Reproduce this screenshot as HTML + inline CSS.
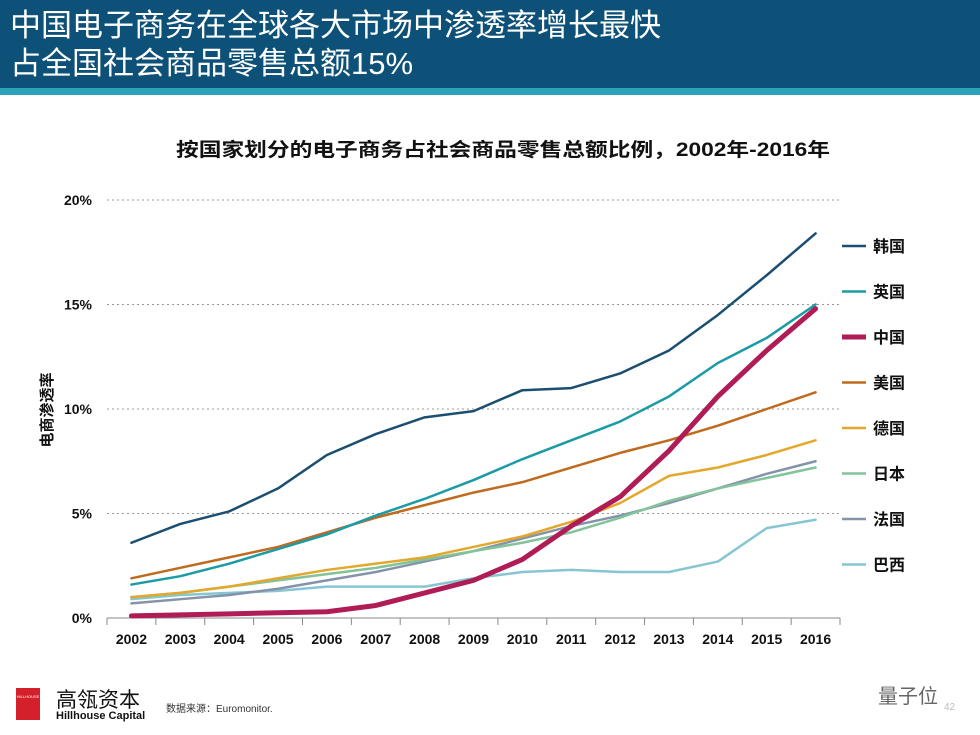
<!DOCTYPE html>
<html><head><meta charset="utf-8"><style>
body{margin:0;width:980px;height:735px;background:#fff;font-family:"Liberation Sans","Noto Sans CJK SC",sans-serif;overflow:hidden;position:relative}
.hdr{position:absolute;left:0;top:0;width:980px;height:88px;background:#0e5178}
.stripe{position:absolute;left:0;top:88px;width:980px;height:7px;background:#2aa3b8}
.t{position:absolute;left:10px;color:#fff;font-size:31px;line-height:36px}
</style></head><body>
<div class="hdr"></div>
<div class="stripe"></div>
<div class="t" style="top:8px">中国电子商务在全球各大市场中渗透率增长最快</div>
<div class="t" style="top:46px">占全国社会商品零售总额15%</div>
<svg id="c" width="980" height="735" style="position:absolute;left:0;top:0"></svg>
<div style="position:absolute;left:16px;top:688px;width:24px;height:32px;background:#d4202a"><div style="font-size:4px;color:#fff;margin-top:6px;text-align:center">HILLHOUSE</div></div>
<div style="position:absolute;left:56px;top:684px;font-size:21px;color:#111">高瓴资本</div>
<div style="position:absolute;left:56px;top:710px;font-size:11px;font-weight:bold;color:#111">Hillhouse Capital</div>
<div style="position:absolute;left:166px;top:700px;font-size:10px;color:#333">数据来源：Euromonitor.</div>
<div style="position:absolute;left:878px;top:680px;font-size:20px;color:#666">量子位</div>
<div style="position:absolute;left:944px;top:702px;font-size:10px;color:#bbb">42</div>
<script>
const years=[2002,2003,2004,2005,2006,2007,2008,2009,2010,2011,2012,2013,2014,2015,2016];
const yTicks=[0,5,10,15,20];
const names=["韩国","英国","中国","美国","德国","日本","法国","巴西"];
const korea=[3.6,4.5,5.1,6.2,7.8,8.8,9.6,9.9,10.9,11.0,11.7,12.8,14.5,16.4,18.4];
const uk=[1.6,2.0,2.6,3.3,4.0,4.9,5.7,6.6,7.6,8.5,9.4,10.6,12.2,13.4,15.0];
const china=[0.1,0.15,0.2,0.25,0.3,0.6,1.2,1.8,2.8,4.4,5.8,8.0,10.6,12.8,14.8];
const us=[1.9,2.4,2.9,3.4,4.1,4.8,5.4,6.0,6.5,7.2,7.9,8.5,9.2,10.0,10.8];
const germany=[1.0,1.2,1.5,1.9,2.3,2.6,2.9,3.4,3.9,4.6,5.5,6.8,7.2,7.8,8.5];
const japan=[1.0,1.2,1.5,1.8,2.1,2.4,2.8,3.2,3.6,4.1,4.8,5.6,6.2,6.7,7.2];
const france=[0.7,0.9,1.1,1.4,1.8,2.2,2.7,3.2,3.8,4.4,4.9,5.5,6.2,6.9,7.5];
const brazil=[0.9,1.1,1.2,1.3,1.5,1.5,1.5,1.9,2.2,2.3,2.2,2.2,2.7,4.3,4.7];
const series=[korea,uk,china,us,germany,japan,france,brazil];
const colors=["#1a4f72","#1a9ba5","#b01c55","#c06a1e","#e3a82b","#82c39a","#8593aa","#86c6d2"];
const widths=[2.5,2.5,5,2.5,2.5,2.5,2.5,2.5];
const NS="http://www.w3.org/2000/svg";
const svg=document.getElementById('c');
const X0=107,X1=840,Y0=618,Y20=200;
const xs=i=>X0+(X1-X0)/years.length*(i+0.5);
const ys=v=>Y0-(Y0-Y20)*v/20;
function el(t,a,p){const e=document.createElementNS(NS,t);for(const k in a)e.setAttribute(k,a[k]);(p||svg).appendChild(e);return e;}
let tt=el('text',{x:176,y:156,'font-size':19,'font-weight':'bold',fill:'#111',textLength:654,lengthAdjust:'spacingAndGlyphs'});


tt.textContent="按国家划分的电子商务占社会商品零售总额比例，2002年-2016年";
yTicks.forEach(v=>{
 if(v>0){let g=el('line',{x1:X0,x2:X1,y1:ys(v),y2:ys(v),stroke:'#999','stroke-dasharray':'2,3'});
 
 }
 let t=el('text',{x:92,y:ys(v)+5,'text-anchor':'end','font-size':14,'font-weight':'bold',fill:'#111'});
 
 
 t.textContent=v+'%';
});
let ax=el('line',{x1:X0,x2:X1,y1:Y0,y2:Y0,stroke:'#888'});


for(let i=0;i<=years.length;i++){let tk=el('line',{x1:X0+(X1-X0)/years.length*i,x2:X0+(X1-X0)/years.length*i,y1:Y0,y2:Y0+7,stroke:'#888'});
 
 }
years.forEach((y,i)=>{let t=el('text',{x:xs(i),y:644,'text-anchor':'middle','font-size':14,'font-weight':'bold',fill:'#111'});
 
 
 t.textContent=y;});
let yt=el('text',{transform:'translate(52,410) rotate(-90)','text-anchor':'middle','font-size':15,'font-weight':'bold',fill:'#111'});


yt.textContent="电商渗透率";
const order=[7,6,5,4,3,1,0,2];
order.forEach(s=>{
 let p=el('polyline',{points:series[s].map((v,i)=>xs(i)+','+ys(v)).join(' '),fill:'none',stroke:colors[s],'stroke-width':widths[s],'stroke-linejoin':'round','stroke-linecap':'round'});
 
 
});
names.forEach((n,i)=>{const y=246+i*45.5;
 let l=el('line',{x1:842,x2:866,y1:y,y2:y,stroke:colors[i],'stroke-width':widths[i]});
 
 
 let t=el('text',{x:873,y:y+6,'font-size':16,'font-weight':'bold',fill:'#111'});
 
 
 t.textContent=n;});
</script>
</body></html>
